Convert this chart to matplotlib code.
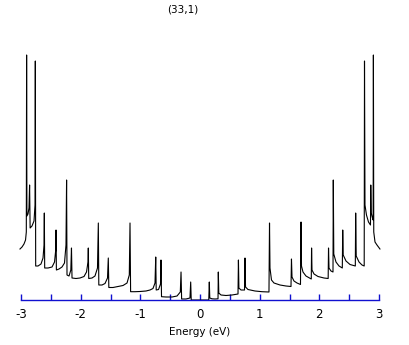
import numpy as np
import matplotlib.pyplot as plt

#%% data

title = '(33,1)'

# occupied side (E < 0), traced vertices of the DOS curve
energy_neg = [-3.017, -2.983, -2.950, -2.924, -2.911, -2.906, -2.901, -2.883, -2.866, -2.856,
              -2.847, -2.816, -2.782, -2.765, -2.760, -2.754, -2.715, -2.665, -2.631, -2.614,
              -2.609, -2.603, -2.547, -2.480, -2.438, -2.418, -2.413, -2.407, -2.363, -2.313,
              -2.271, -2.246, -2.236, -2.229, -2.195, -2.165, -2.154, -2.145, -2.078, -2.011,
              -1.944, -1.902, -1.877, -1.872, -1.865, -1.810, -1.760, -1.718, -1.704, -1.696,
              -1.642, -1.592, -1.550, -1.537, -1.528, -1.458, -1.374, -1.290, -1.223, -1.185,
              -1.173, -1.163, -1.089, -1.006, -0.905, -0.838, -0.788, -0.754, -0.742, -0.734,
              -0.695, -0.662, -0.654, -0.645, -0.570, -0.469, -0.385, -0.330, -0.318, -0.308,
              -0.235, -0.168, -0.156, -0.147]
dos_neg = [0.51, 0.53, 0.56, 0.60, 0.68, 2.45, 0.84, 0.86, 0.92, 1.15,
           0.72, 0.74, 0.79, 0.95, 2.39, 0.34, 0.34, 0.36, 0.42, 0.55,
           0.87, 0.32, 0.32, 0.33, 0.38, 0.50, 0.70, 0.30, 0.31, 0.33,
           0.37, 0.55, 1.20, 0.25, 0.24, 0.30, 0.52, 0.22, 0.215, 0.22,
           0.235, 0.28, 0.38, 0.52, 0.215, 0.22, 0.24, 0.32, 0.77, 0.15,
           0.15, 0.165, 0.22, 0.42, 0.125, 0.125, 0.135, 0.145, 0.17, 0.25,
           0.77, 0.083, 0.083, 0.085, 0.09, 0.10, 0.115, 0.17, 0.43, 0.10,
           0.105, 0.16, 0.40, 0.033, 0.03, 0.03, 0.04, 0.08, 0.28, 0.01,
           0.01, 0.02, 0.18, 0.0]

# unoccupied side (E > 0)
energy_pos = [0.147, 0.156, 0.164, 0.201, 0.251, 0.302, 0.307, 0.315, 0.352, 0.436,
              0.536, 0.637, 0.644, 0.652, 0.687, 0.746, 0.754, 0.763, 0.804, 0.922,
              1.039, 1.156, 1.165, 1.173, 1.198, 1.240, 1.341, 1.441, 1.525, 1.533,
              1.542, 1.575, 1.626, 1.684, 1.693, 1.701, 1.726, 1.776, 1.835, 1.865,
              1.870, 1.877, 1.911, 1.978, 2.078, 2.148, 2.154, 2.162, 2.195, 2.229,
              2.234, 2.242, 2.279, 2.330, 2.385, 2.392, 2.400, 2.447, 2.514, 2.603,
              2.609, 2.618, 2.665, 2.715, 2.752, 2.757, 2.765, 2.790, 2.824, 2.857,
              2.862, 2.870, 2.890, 2.902, 2.906, 2.912, 2.933, 2.966, 3.016]
dos_pos = [0.0, 0.18, 0.02, 0.012, 0.01, 0.012, 0.28, 0.07, 0.05, 0.045,
           0.05, 0.06, 0.40, 0.12, 0.10, 0.10, 0.42, 0.13, 0.105, 0.09,
           0.083, 0.08, 0.77, 0.32, 0.20, 0.17, 0.15, 0.14, 0.135, 0.41,
           0.23, 0.19, 0.17, 0.155, 0.78, 0.34, 0.28, 0.24, 0.22, 0.21,
           0.52, 0.30, 0.26, 0.235, 0.22, 0.215, 0.52, 0.32, 0.29, 0.28,
           1.20, 0.46, 0.38, 0.34, 0.32, 0.70, 0.45, 0.39, 0.355, 0.34,
           0.87, 0.44, 0.38, 0.35, 0.34, 2.39, 0.95, 0.85, 0.78, 0.75,
           1.15, 0.87, 0.82, 0.80, 2.45, 0.68, 0.58, 0.55, 0.51]

major_ticks = [-3, -2, -1, 0, 1, 2, 3]
minor_ticks = [-2.5, -1.5, -0.5, 0.5, 1.5, 2.5]

#%% plotting

energy = np.array(energy_neg + energy_pos)
dos = np.array(dos_neg + dos_pos)

axis_blue = '#1010d0'

fig = plt.figure(figsize=(4.09, 3.45), dpi=100)
ax = fig.add_axes([21/409, 45/345, 358/409, 270/345])

ax.plot(energy, dos, color='black', linewidth=0.8, clip_on=False)

ax.set_xlim(-3, 3)
ax.set_ylim(0, 2.70)

for side in ['top', 'left', 'right']:
    ax.spines[side].set_visible(False)
ax.spines['bottom'].set_color(axis_blue)
ax.spines['bottom'].set_linewidth(1.0)

ax.set_yticks([])
ax.set_xticks(major_ticks)
ax.set_xticks(minor_ticks, minor=True)
ax.set_xticklabels([str(t) for t in major_ticks])
ax.tick_params(axis='x', which='both', direction='in', length=4.5, width=1.0,
               color=axis_blue, labelsize=8.5, pad=6)
ax.set_xlabel('Energy (eV)', fontsize=7.5, labelpad=4)

fig.text(183/409, 1 - 9/345, title, ha='center', va='center', fontsize=7.5)

fig.savefig('out.png', dpi=100)
